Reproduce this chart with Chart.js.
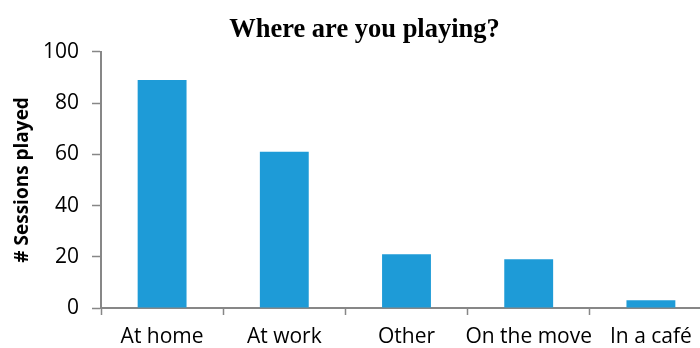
<!DOCTYPE html>
<html>
<head>
<meta charset="utf-8">
<script src="https://cdn.jsdelivr.net/npm/chart.js@4/dist/chart.umd.min.js"></script>
<style>
  html, body { margin: 0; padding: 0; background: #fff; overflow: hidden; }
  #wrap { width: 729px; height: 348px; }
</style>
</head>
<body>
<div id="wrap"><canvas id="placesChart" width="729" height="348"></canvas></div>
<script>
const categories = ['At home', 'At work', 'Other', 'On the move', 'In a café'];
const sessions = [89, 61, 21, 19, 3];
const yTicks = [0, 20, 40, 60, 80, 100];

const axisGrey = '#878787';
const tickFont = { family: '"Open Sans", sans-serif', size: 21, lineHeight: 1.0 };

const ctx = document.getElementById('placesChart').getContext('2d');

const placesChart = new Chart(ctx, {
  type: 'bar',
  data: {
    labels: categories,
    datasets: [
      {
        label: '# Sessions played',
        data: sessions,
        backgroundColor: '#1e9bd7',
        borderWidth: 0,
        barPercentage: 0.4,
        categoryPercentage: 1.0,
      }
    ]
  },
  options: {
    responsive: false,
    animation: false,
    layout: { padding: 0 },
    plugins: {
      legend: { display: false },
      tooltip: { enabled: false },
      title: {
        display: true,
        text: 'Where are you playing?',
        color: '#000',
        font: { family: '"Liberation Serif", "Times New Roman", serif', size: 26.5, weight: 'bold' },
        padding: { top: 14, bottom: 6 }
      }
    },
    scales: {
      x: {
        afterFit: (scale) => {
          scale.height = 40;
        },
        grid: {
          display: true,
          offset: true,
          drawOnChartArea: false,
          drawTicks: true,
          tickLength: 7,
          tickColor: axisGrey,
          tickWidth: 1.5,
        },
        border: { color: axisGrey, width: 2 },
        ticks: { color: '#000', font: tickFont, padding: 12, maxRotation: 0, autoSkip: false }
      },
      y: {
        min: 0,
        max: 100,
        afterBuildTicks: (scale) => {
          scale.ticks = yTicks.map(v => ({ value: v }));
        },
        afterFit: (scale) => {
          scale.width = 101;
        },
        grid: {
          display: true,
          drawOnChartArea: false,
          drawTicks: true,
          tickLength: 9,
          tickColor: axisGrey,
          tickWidth: 1.5,
        },
        border: { color: axisGrey, width: 2 },
        ticks: { color: '#000', font: tickFont, padding: 13 },
        title: {
          display: true,
          text: '# Sessions played',
          color: '#000',
          font: { family: '"Open Sans", sans-serif', size: 19, weight: 'bold' },
          padding: { top: 11, bottom: 0 }
        }
      },
      // empty right-hand box, only there to end the plot area at the same place as the original
      spacer: {
        type: 'linear',
        position: 'right',
        afterFit: (scale) => {
          scale.width = 17;
        },
        grid: { display: false, drawTicks: false },
        border: { display: false },
        ticks: { display: false }
      }
    }
  }
});
</script>
</body>
</html>
